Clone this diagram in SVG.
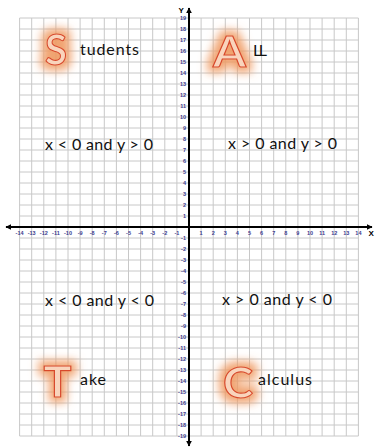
<svg xmlns="http://www.w3.org/2000/svg" width="375" height="447" viewBox="0 0 375 447">
<style>
.grid{fill:none;stroke:#c8c8c8;stroke-width:1}
.axis{stroke:#000;stroke-width:2;fill:none}
.tick{font-family:"Liberation Sans",Arial,sans-serif;font-size:5.5px;font-weight:bold;fill:#3c3c90}
.tx{text-anchor:middle}
.ty{text-anchor:end}
.lbl{font-family:Lato,"Open Sans",sans-serif;font-size:16px;fill:#111}
.big{font-family:Lato,"Open Sans",sans-serif;font-weight:bold;font-size:42px;fill:#f9d4bc;stroke:#d8482c;stroke-width:1.1;text-anchor:middle;filter:url(#glow)}
.axl{font-family:"Liberation Sans",Arial,sans-serif;font-weight:bold;font-size:8px;fill:#000}
</style>
<defs>
<marker id="ah" viewBox="0 0 10 10" refX="9" refY="5" markerWidth="6" markerHeight="6" markerUnits="userSpaceOnUse" orient="auto">
<path d="M0 0L10 5L0 10z" fill="#000"/>
</marker>
<filter id="glow" x="-100%" y="-100%" width="300%" height="300%">
<feMorphology in="SourceAlpha" operator="dilate" radius="5" result="d"/>
<feGaussianBlur in="d" stdDeviation="5" result="b"/>
<feFlood flood-color="#ef9a62" flood-opacity="0.9"/>
<feComposite in2="b" operator="in" result="g"/>
<feMerge><feMergeNode in="g"/><feMergeNode in="SourceGraphic"/></feMerge>
</filter>
</defs>
<rect width="375" height="447" fill="#fff"/>
<g id="grid">
<path class="grid" d="M19.6 18v418m12.1-418v418m12.1-418v418m12.1-418v418m12.1-418v418m12.1-418v418m12.1-418v418m12.1-418v418m12.1-418v418m12.1-418v418m12.1-418v418m12.1-418v418m12.1-418v418m12.1-418v418m12.1-418v418m12.1-418v418m12.1-418v418m12.1-418v418m12.1-418v418m12.1-418v418m12.1-418v418m12.1-418v418m12.1-418v418m12.1-418v418m12.1-418v418m12.1-418v418m12.1-418v418m12.1-418v418m12.1-418v418"/>
<path class="grid" d="M19.6 18h338.8m-338.8 11h338.8m-338.8 11h338.8m-338.8 11h338.8m-338.8 11h338.8m-338.8 11h338.8m-338.8 11h338.8m-338.8 11h338.8m-338.8 11h338.8m-338.8 11h338.8m-338.8 11h338.8m-338.8 11h338.8m-338.8 11h338.8m-338.8 11h338.8m-338.8 11h338.8m-338.8 11h338.8m-338.8 11h338.8m-338.8 11h338.8m-338.8 11h338.8m-338.8 11h338.8m-338.8 11h338.8m-338.8 11h338.8m-338.8 11h338.8m-338.8 11h338.8m-338.8 11h338.8m-338.8 11h338.8m-338.8 11h338.8m-338.8 11h338.8m-338.8 11h338.8m-338.8 11h338.8m-338.8 11h338.8m-338.8 11h338.8m-338.8 11h338.8m-338.8 11h338.8m-338.8 11h338.8m-338.8 11h338.8m-338.8 11h338.8m-338.8 11h338.8m-338.8 11h338.8"/>
</g>
<g id="axes">
<line class="axis" x1="189" y1="227" x2="372" y2="227" marker-end="url(#ah)"/>
<line class="axis" x1="189" y1="227" x2="6" y2="227" marker-end="url(#ah)"/>
<line class="axis" x1="189" y1="227" x2="189" y2="8" marker-end="url(#ah)"/>
<line class="axis" x1="189" y1="227" x2="189" y2="446" marker-end="url(#ah)"/>
<text class="axl" x="178.5" y="13">Y</text>
<text class="axl" x="368.5" y="236">X</text>
</g>
<g id="x-ticks" class="tick tx">
<text x="19.6" y="234.5">-14</text><text x="31.7" y="234.5">-13</text><text x="43.8" y="234.5">-12</text><text x="55.9" y="234.5">-11</text><text x="68" y="234.5">-10</text><text x="80.1" y="234.5">-9</text><text x="92.2" y="234.5">-8</text><text x="104.3" y="234.5">-7</text><text x="116.4" y="234.5">-6</text><text x="128.5" y="234.5">-5</text><text x="140.6" y="234.5">-4</text><text x="152.7" y="234.5">-3</text><text x="164.8" y="234.5">-2</text><text x="176.9" y="234.5">-1</text>
<text x="201.1" y="234.5">1</text><text x="213.2" y="234.5">2</text><text x="225.3" y="234.5">3</text><text x="237.4" y="234.5">4</text><text x="249.5" y="234.5">5</text><text x="261.6" y="234.5">6</text><text x="273.7" y="234.5">7</text><text x="285.8" y="234.5">8</text><text x="297.9" y="234.5">9</text><text x="310" y="234.5">10</text><text x="322.1" y="234.5">11</text><text x="334.2" y="234.5">12</text><text x="346.3" y="234.5">13</text><text x="358.4" y="234.5">14</text>
</g>
<g id="y-ticks" class="tick ty">
<text x="186" y="20">19</text><text x="186" y="31">18</text><text x="186" y="42">17</text><text x="186" y="53">16</text><text x="186" y="64">15</text><text x="186" y="75">14</text><text x="186" y="86">13</text><text x="186" y="97">12</text><text x="186" y="108">11</text><text x="186" y="119">10</text><text x="186" y="130">9</text><text x="186" y="141">8</text><text x="186" y="152">7</text><text x="186" y="163">6</text><text x="186" y="174">5</text><text x="186" y="185">4</text><text x="186" y="196">3</text><text x="186" y="207">2</text><text x="186" y="218">1</text>
<text x="186" y="240">-1</text><text x="186" y="251">-2</text><text x="186" y="262">-3</text><text x="186" y="273">-4</text><text x="186" y="284">-5</text><text x="186" y="295">-6</text><text x="186" y="306">-7</text><text x="186" y="317">-8</text><text x="186" y="328">-9</text><text x="186" y="339">-10</text><text x="186" y="350">-11</text><text x="186" y="361">-12</text><text x="186" y="372">-13</text><text x="186" y="383">-14</text><text x="186" y="394">-15</text><text x="186" y="405">-16</text><text x="186" y="416">-17</text><text x="186" y="427">-18</text><text x="186" y="438">-19</text>
</g>
<g id="q2-students">
<text class="big" x="56" y="65" textLength="22" lengthAdjust="spacingAndGlyphs">S</text>
<text class="lbl" x="80" y="55" textLength="59">tudents</text>
</g>
<g id="q1-all">
<text class="big" x="229.5" y="67" textLength="33" lengthAdjust="spacingAndGlyphs">A</text>
<text class="lbl" x="253" y="56" textLength="14">LL</text>
</g>
<g id="q3-take">
<text class="big" x="57.5" y="397" textLength="28" lengthAdjust="spacingAndGlyphs">T</text>
<text class="lbl" x="80" y="385" textLength="26">ake</text>
</g>
<g id="q4-calculus">
<text class="big" x="238" y="398" textLength="30" lengthAdjust="spacingAndGlyphs">C</text>
<text class="lbl" x="258" y="385" textLength="54">alculus</text>
</g>
<g id="conditions" class="lbl">
<text x="45" y="150" textLength="108">x &lt; 0 and y &gt; 0</text>
<text x="228" y="149" textLength="109">x &gt; 0 and y &gt; 0</text>
<text x="45" y="306" textLength="109">x &lt; 0 and y &lt; 0</text>
<text x="222" y="305" textLength="110">x &gt; 0 and y &lt; 0</text>
</g>
</svg>
